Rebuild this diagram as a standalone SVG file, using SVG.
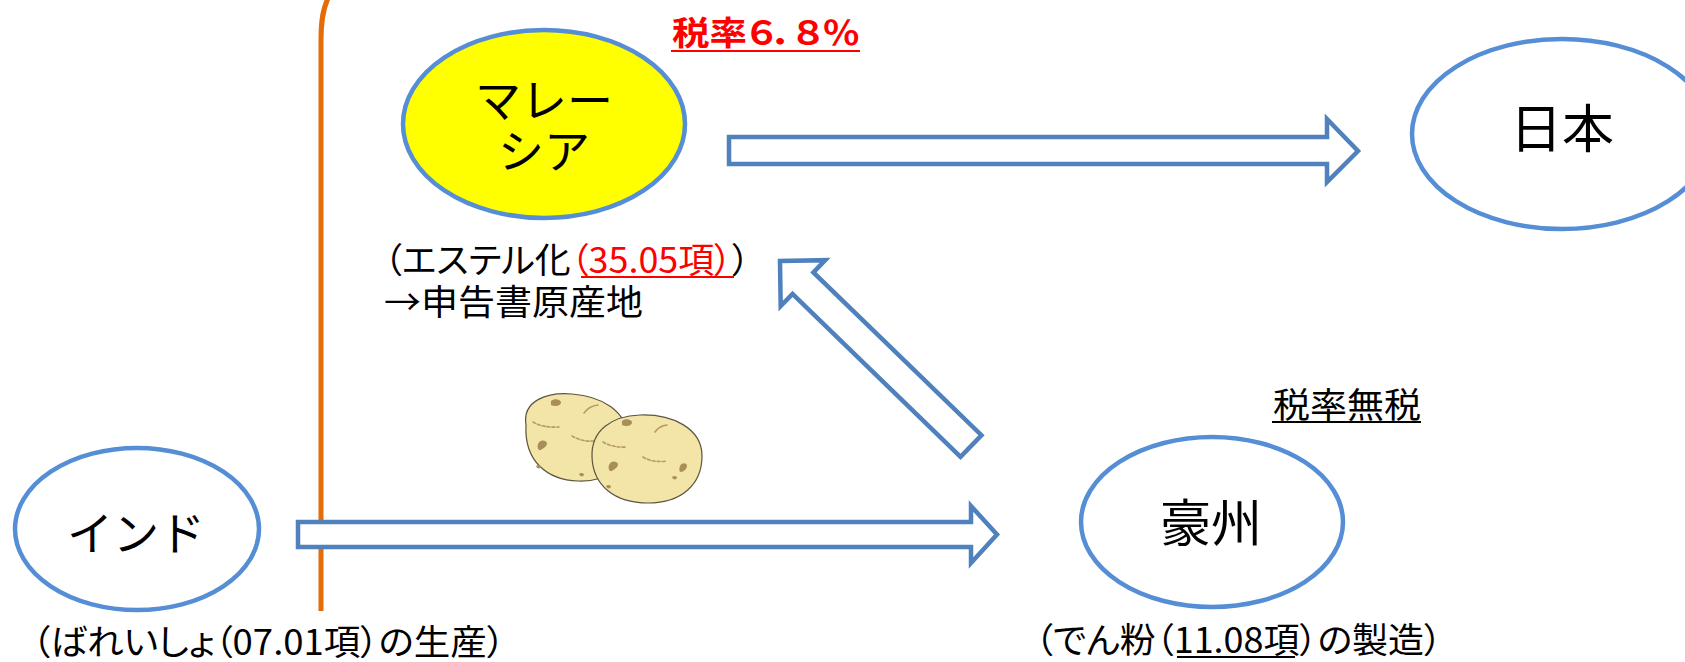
<svg xmlns="http://www.w3.org/2000/svg" width="1685" height="662" viewBox="0 0 1685 662">
  <style>
    .node { fill: #FFFFFF; stroke: #558ED5; stroke-width: 4.5; }
    .lbl { font-family: "Noto Sans CJK JP", "Noto Sans", sans-serif; fill: #000000; text-anchor: middle; }
    .note { font-family: "Noto Sans CJK JP", "Noto Sans", sans-serif; fill: #000000; font-size: 35px; font-feature-settings: "palt"; }
    .red { fill: #FF0000; }
    .ul { stroke: #000000; stroke-width: 2; }
    .ul-red { stroke: #FF0000; stroke-width: 2; }
    .flow { fill: #FFFFFF; stroke: #4F81BD; stroke-width: 4.5; stroke-linejoin: miter; }
    .spud { fill: #F3E4A8; stroke: #5E553F; stroke-width: 1.2; }
    .spot { fill: #A88E58; }
    .eye { fill: none; stroke: #B59C66; stroke-width: 1.6; stroke-linecap: round; }
  </style>

  <rect width="1685" height="662" fill="#FFFFFF"/>

  <!-- border line (left edge of the Malaysia zone) -->
  <path d="M321,611 V40 C321,20 323,8 329,-4" fill="none" stroke="#E46C0A" stroke-width="5"/>

  <!-- flows between countries -->
  <g id="connectors">
    <path class="flow" d="M729,137 H1327 V119 L1358,151 L1327,182 V164 H729 Z"/>
    <path class="flow" d="M298,522 H971 V506 L997,534.5 L971,563 V547 H298 Z"/>
    <path class="flow" transform="translate(971,446) rotate(224.1)" d="M0,-15 H234 V-32 L266,0 L234,32 V15 H0 Z"/>
  </g>

  <!-- potatoes -->
  <g id="potatoes">
    <path class="spud" d="M526,425 C522,400 548,392 572,394 C600,396 628,410 628,440 C628,468 606,482 578,481 C548,480 524,462 526,425 Z"/>
    <path class="spot" d="M551,401 c3,-3 9,-2 10,1 c0,4 -6,5 -10,3 z" fill="#C28A63"/>
    <path class="spot" d="M538,444 c2,-5 8,-4 9,-1 c0,4 -4,5 -6,7 c-3,1 -4,-3 -3,-6 z"/>
    <path class="spot" d="M536,466 c2,-2 5,-1 5,1 c-1,2 -4,2 -5,-1 z"/>
    <path class="spot" d="M579,474 c2,-2 5,-1 5,1 c-1,2 -4,2 -5,-1 z"/>
    <path class="eye" d="M584,413 q5,-7 14,-8"/>
    <path class="eye" d="M533,422 q10,6 26,5" stroke-dasharray="3 2"/>
    <path class="eye" d="M572,436 q10,6 22,5" stroke-dasharray="3 2"/>

    <path class="spud" d="M592,457 C591,430 612,416 640,415 C672,414 702,428 702,456 C702,484 682,503 648,503 C614,503 593,485 592,457 Z"/>
    <path class="spot" d="M622,421 c3,-3 9,-2 10,1 c0,4 -6,5 -10,3 z" fill="#C28A63"/>
    <path class="spot" d="M609,465 c2,-5 8,-4 9,-1 c0,4 -4,5 -6,7 c-3,1 -4,-3 -3,-6 z"/>
    <path class="spot" d="M680,466 c2,-4 7,-3 7,0 c0,3 -4,6 -6,6 c-2,0 -2,-3 -1,-6 z"/>
    <path class="spot" d="M672,477 c2,-2 5,-1 5,1 c-1,2 -4,2 -5,-1 z"/>
    <path class="spot" d="M606,486 c2,-2 5,-1 5,1 c-1,2 -4,2 -5,-1 z"/>
    <path class="eye" d="M655,432 q4,-6 12,-7"/>
    <path class="eye" d="M603,442 q10,6 24,5" stroke-dasharray="3 2"/>
    <path class="eye" d="M643,457 q10,6 24,4" stroke-dasharray="3 2"/>
  </g>

  <!-- Malaysia -->
  <g id="malaysia">
    <ellipse class="node" cx="544" cy="124" rx="141" ry="94" style="fill:#FFFF00"/>
    <text class="lbl" x="544" y="117" font-size="46">マレー</text>
    <text class="lbl" x="544" y="168" font-size="46">シア</text>
    <text class="note" x="384" y="273" textLength="366" lengthAdjust="spacingAndGlyphs">（エステル化<tspan class="red">（35.05項）</tspan>）</text>
    <line class="ul-red" x1="581" y1="277" x2="734" y2="277"/>
    <text class="note" x="384" y="315" textLength="259" lengthAdjust="spacingAndGlyphs">→申告書原産地</text>
    <text class="note red" x="672" y="45" font-weight="bold" style="font-size:33px" textLength="188" lengthAdjust="spacingAndGlyphs">税率６．８％</text>
    <line class="ul-red" x1="671" y1="51" x2="860" y2="51"/>
  </g>

  <!-- Japan -->
  <g id="japan">
    <ellipse class="node" cx="1562" cy="134" rx="150" ry="95"/>
    <text class="lbl" x="1562" y="148" font-size="52">日本</text>
  </g>

  <!-- India -->
  <g id="india">
    <ellipse class="node" cx="137" cy="529" rx="122" ry="81"/>
    <text class="lbl" x="136" y="550" font-size="46">インド</text>
    <text class="note" x="32" y="655" textLength="473" lengthAdjust="spacingAndGlyphs">（ばれいしょ（07.01項）の生産）</text>
  </g>

  <!-- Australia -->
  <g id="australia">
    <ellipse class="node" cx="1212" cy="522" rx="131" ry="85"/>
    <text class="lbl" x="1211" y="542" font-size="51">豪州</text>
    <text class="note" x="1273" y="418" textLength="148" lengthAdjust="spacingAndGlyphs">税率無税</text>
    <line class="ul" x1="1272" y1="422" x2="1421" y2="422"/>
    <text class="note" x="1035" y="653" textLength="407" lengthAdjust="spacingAndGlyphs">（でん粉（11.08項）の製造）</text>
    <line class="ul" x1="1177" y1="657" x2="1295" y2="657"/>
  </g>
</svg>
